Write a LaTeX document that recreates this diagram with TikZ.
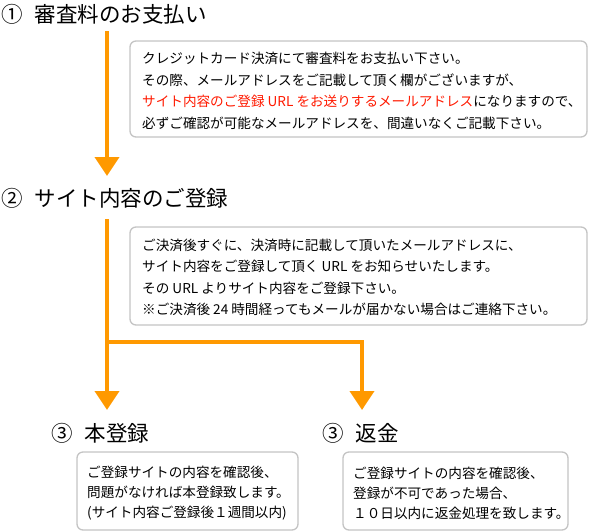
\documentclass[tikz,border=0pt]{standalone}
\usepackage{fontspec}
\setmainfont{Noto Sans CJK JP}
\usetikzlibrary{arrows.meta}
\definecolor{flow}{HTML}{FF9900}
\definecolor{boxline}{HTML}{C4C4C4}
\definecolor{hl}{HTML}{FF1A00}
\tikzset{
  heading/.style={anchor=west, inner sep=0pt, font=\fontsize{21.5}{26}\selectfont},
  notebox/.style={draw=boxline, line width=1.3pt, rounded corners=6pt, fill=white, inner sep=0pt},
  notetext/.style={anchor=west, align=left, inner sep=0pt, font=\fontsize{13.6}{21.5}\selectfont},
  smalltext/.style={notetext, font=\fontsize{13.6}{20}\selectfont},
  flowline/.style={draw=flow, line width=4pt},
  flowarrow/.style={flowline, -{Triangle[width=24pt,length=19pt]}},
}
\begin{document}
\begin{tikzpicture}[x=1pt,y=-1pt]
\useasboundingbox (0,0) rectangle (589,531);
% headings
\node[heading] (h1) at (1,14) {①\hspace{12pt}審査料のお支払い};
\node[heading] (h2) at (1,198) {②\hspace{12pt}サイト内容のご登録};
\node[heading] (h3a) at (51,433) {③\hspace{12pt}本登録};
\node[heading] (h3b) at (322,433) {③\hspace{12pt}返金};
% boxes
\node[notebox, minimum width=457pt, minimum height=96pt] (b1) at (358.5,89) {};
\node[notetext] (t1) at (142,91) {クレジットカード決済にて審査料をお支払い下さい。\\
その際、メールアドレスをご記載して頂く欄がございますが、\\
{\color{hl}サイト内容のご登録 URL をお送りするメールアドレス}になりますので、\\
必ずご確認が可能なメールアドレスを、間違いなくご記載下さい。};
\node[notebox, minimum width=457pt, minimum height=98pt] (b2) at (358.5,276) {};
\node[notetext] (t2) at (142,277.5) {ご決済後すぐに、決済時に記載して頂いたメールアドレスに、\\
サイト内容をご登録して頂く URL をお知らせいたします。\\
その URL よりサイト内容をご登録下さい。\\
※ご決済後 24 時間経ってもメールが届かない場合はご連絡下さい。};
\node[notebox, minimum width=221pt, minimum height=78pt] (b3a) at (187.5,491) {};
\node[smalltext] (t3a) at (87,493) {ご登録サイトの内容を確認後、\\
問題がなければ本登録致します。\\
(サイト内容ご登録後１週間以内)};
\node[notebox, minimum width=225pt, minimum height=78pt] (b3b) at (455.5,491) {};
\node[smalltext] (t3b) at (353,493) {ご登録サイトの内容を確認後、\\
登録が不可であった場合、\\
１０日以内に返金処理を致します。};
% connectors
\coordinate (s1) at (107,31);
\coordinate (e1) at (107,176);
\coordinate (s2) at (107,219);
\coordinate (fork) at (107,342);
\coordinate (e3a) at (107,410);
\coordinate (e3b) at (362,410);
\draw[flowarrow] (s1) -- (e1);
\draw[flowarrow] (s2) -- (e3a);
\draw[flowarrow] (fork) -| (e3b);
\end{tikzpicture}
\end{document}
